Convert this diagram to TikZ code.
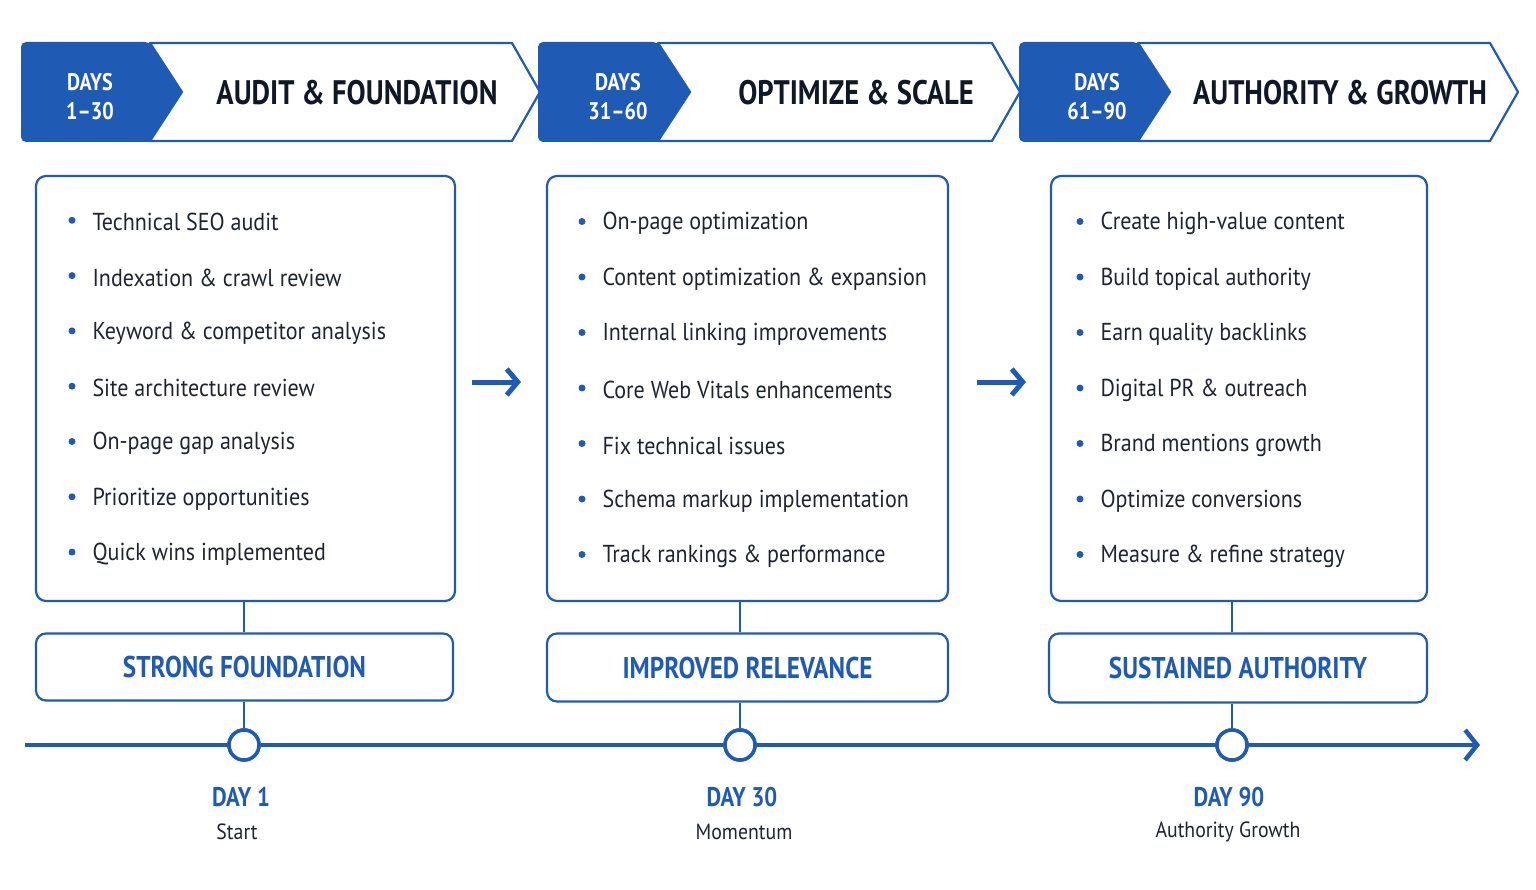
\documentclass[tikz,border=0pt]{standalone}
\usepackage{fontspec}
\setmainfont{PT Sans}
\newfontfamily\cond[FakeStretch=0.84]{PT Sans}
\newfontfamily\condb[FakeStretch=0.9]{PT Sans}
\usetikzlibrary{arrows.meta}
\definecolor{mblue}{HTML}{1F5BB5}
\definecolor{navy}{HTML}{101828}
\definecolor{txt}{HTML}{1E2430}
\tikzset{
  box/.style={draw=mblue,line width=2.2pt,rounded corners=10pt},
  itm/.style={anchor=west,font=\condb\fontsize{24.5}{28}\selectfont,text=txt},
  bul/.style={circle,fill=mblue,inner sep=0pt,minimum size=7pt},
  outc/.style={font=\cond\bfseries\fontsize{30}{32}\selectfont,text=mblue},
  ttl/.style={font=\cond\bfseries\fontsize{34}{36}\selectfont,text=navy},
  days/.style={font=\cond\bfseries\fontsize{24}{29}\selectfont,text=white,align=center},
  conn/.style={draw=mblue,line width=2pt},
  mile/.style={circle,draw=mblue,line width=3.5pt,fill=white,minimum size=30pt,inner sep=0pt},
  dayl/.style={font=\cond\bfseries\fontsize{27}{30}\selectfont,text=mblue},
  dsub/.style={font=\condb\fontsize{22}{26}\selectfont,text=txt},
  bigarrow/.style={draw=mblue,line width=5pt,-{Straight Barb[length=11pt,width=26pt,line width=5pt]}}
}
\begin{document}
\begin{tikzpicture}[x=1pt,y=-1pt]
\useasboundingbox (0,0) rectangle (1536,890);
% headers
\foreach \a/\b/\c/\d/\e [count=\i] in {20/150/182/512/540, 537/658/690/992/1020, 1018/1138/1170/1490/1518}{
  \draw[mblue,line width=2.2pt,fill=white,line join=round] (\b,43) -- (\d,43) -- (\e,92) -- (\d,141) -- (\b,141) -- (\c,92) -- cycle;
  \fill[mblue,rounded corners=5pt] (\a+1,42) -- (\b,42) [sharp corners] -- (\c,92) -- (\b,142) [rounded corners=5pt] -- (\a+1,142) -- cycle;
}
\node[days] (d1) at (90,97) {DAYS\\1–30};
\node[days] (d2) at (618,97) {DAYS\\31–60};
\node[days] (d3) at (1097,97) {DAYS\\61–90};
\node[ttl] (t1) at (357,93) {AUDIT \& FOUNDATION};
\node[ttl] (t2) at (856,93) {OPTIMIZE \& SCALE};
\node[ttl] (t3) at (1340,93) {AUTHORITY \& GROWTH};
% boxes
\node[box,minimum width=419pt,minimum height=425pt] (b1) at (245.5,388.5) {};
\node[box,minimum width=401pt,minimum height=425pt] (b2) at (747.5,388.5) {};
\node[box,minimum width=376pt,minimum height=425pt] (b3) at (1239,388.5) {};
% items
\foreach \t [count=\i] in {Technical SEO audit, Indexation \& crawl review, Keyword \& competitor analysis, Site architecture review, On-page gap analysis, Prioritize opportunities, Quick wins implemented}{
  \node[bul] (ba\i) at (72,165+55.3*\i) {};
  \node[itm] (ia\i) at (89,167+55.3*\i) {\t};
}
\foreach \t [count=\i] in {On-page optimization, Content optimization \& expansion, Internal linking improvements, Core Web Vitals enhancements, Fix technical issues, Schema markup implementation, Track rankings \& performance}{
  \node[bul] (bb\i) at (582,166+55.5*\i) {};
  \node[itm] (ib\i) at (599,168+55.5*\i) {\t};
}
\foreach \t [count=\i] in {Create high-value content, Build topical authority, Earn quality backlinks, Digital PR \& outreach, Brand mentions growth, Optimize conversions, Measure \& refine strategy}{
  \node[bul] (bc\i) at (1080,166+55.5*\i) {};
  \node[itm] (ic\i) at (1097,168+55.5*\i) {\t};
}
% arrows between
\coordinate (a1s) at (472,382); \coordinate (a1e) at (521,382);
\coordinate (a2s) at (977,382); \coordinate (a2e) at (1026,382);
\draw[bigarrow] (a1s) -- (a1e);
\draw[bigarrow] (a2s) -- (a2e);
% outcome boxes
\node[box,minimum width=417pt,minimum height=67pt,outc] (o1) at (244.5,667) {STRONG FOUNDATION};
\node[box,minimum width=401pt,minimum height=68pt,outc] (o2) at (747.5,667.5) {IMPROVED RELEVANCE};
\node[box,minimum width=378pt,minimum height=69pt,outc] (o3) at (1238,668) {SUSTAINED AUTHORITY};
% timeline
\coordinate (ts) at (25,745); \coordinate (te) at (1480,745);
\draw[conn,line width=4.5pt,-{Straight Barb[length=12pt,width=30pt,line width=4.5pt]}] (ts) -- (te);
\node[mile] (m1) at (244,745) {};
\node[mile] (m2) at (740,745) {};
\node[mile] (m3) at (1232,745) {};
\draw[conn] (b1.south -| m1) -- (o1.north -| m1);
\draw[conn] (o1.south -| m1) -- (m1);
\draw[conn] (b2.south -| m2) -- (o2.north -| m2);
\draw[conn] (o2.south -| m2) -- (m2);
\draw[conn] (b3.south -| m3) -- (o3.north -| m3);
\draw[conn] (o3.south -| m3) -- (m3);
\node[mile] at (m1) {};
\node[mile] at (m2) {};
\node[mile] at (m3) {};
\node[dayl] (l1) at (241,797) {DAY 1};
\node[dsub] (s1) at (237,832) {Start};
\node[dayl] (l2) at (742,797) {DAY 30};
\node[dsub] (s2) at (744,832) {Momentum};
\node[dayl] (l3) at (1229,797) {DAY 90};
\node[dsub] (s3) at (1228,832) {Authority Growth};
\end{tikzpicture}
\end{document}
